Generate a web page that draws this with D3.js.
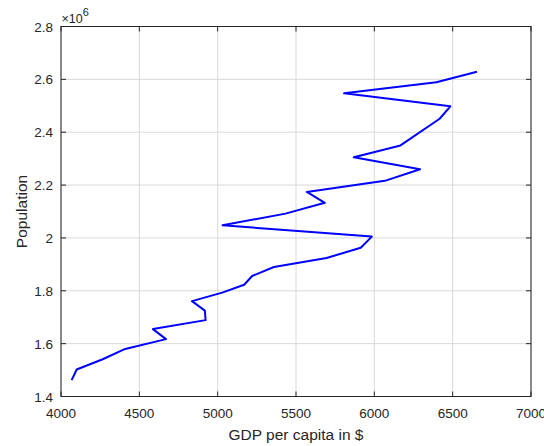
<!DOCTYPE html>
<html>
<head>
<meta charset="utf-8">
<script src="https://cdn.jsdelivr.net/npm/d3@7"></script>
<style>
    body { margin: 0; background: #fff; }
    text { font-family: "Liberation Sans", Arial, sans-serif; fill: #262626; }
</style>
</head>
<body>
<div id="chartdiv"></div>
<script>
//GDP per capita against population, plotted in time order
var gdp = [4068, 4100, 4266, 4410, 4670, 4587, 4923, 4918, 4836, 5029,
           5169, 5220, 5359, 5695, 5913, 5984, 5031, 5433, 5684, 5569,
           6067, 6292, 5869, 6167, 6417, 6485, 5807, 6396, 6655],
    pop = [1.462, 1.502, 1.541, 1.580, 1.617, 1.655, 1.689, 1.725, 1.761, 1.793,
           1.823, 1.856, 1.890, 1.924, 1.963, 2.005, 2.048, 2.092, 2.133, 2.174,
           2.216, 2.260, 2.305, 2.350, 2.451, 2.498, 2.547, 2.589, 2.629],
    xticks = [4000, 4500, 5000, 5500, 6000, 6500, 7000],
    yticks = [1.4, 1.6, 1.8, 2, 2.2, 2.4, 2.6, 2.8];

(function () {
    "use strict";
    var W = 544, H = 446,
        m = {left: 61, right: 13, top: 26.5, bottom: 49.5},
        iw = W - m.left - m.right, ih = H - m.top - m.bottom,
        svg, g, x, y, tl = 5, pts;

    svg = d3.select("#chartdiv").append("svg")
        .attr("width", W).attr("height", H);
    g = svg.append("g")
        .attr("transform", "translate(" + m.left + "," + m.top + ")");

    x = d3.scaleLinear().domain([4000, 7000]).range([0, iw]);
    y = d3.scaleLinear().domain([1.4, 2.8]).range([ih, 0]);

    //grid lines
    g.selectAll(".vg").data(xticks).enter().append("line")
        .attr("x1", function (d) { return x(d); })
        .attr("x2", function (d) { return x(d); })
        .attr("y1", 0).attr("y2", ih)
        .attr("stroke", "#d9d9d9").attr("stroke-width", 1);
    g.selectAll(".hg").data(yticks).enter().append("line")
        .attr("y1", function (d) { return y(d); })
        .attr("y2", function (d) { return y(d); })
        .attr("x1", 0).attr("x2", iw)
        .attr("stroke", "#d9d9d9").attr("stroke-width", 1);

    //data line
    pts = gdp.map(function (v, i) { return [v, pop[i]]; });
    g.append("path").datum(pts)
        .attr("fill", "none")
        .attr("stroke", "#0000ff")
        .attr("stroke-width", 2)
        .attr("stroke-linejoin", "round")
        .attr("d", d3.line()
            .x(function (d) { return x(d[0]); })
            .y(function (d) { return y(d[1]); }));

    //box and inward ticks on all four sides
    g.append("rect")
        .attr("width", iw).attr("height", ih)
        .attr("fill", "none").attr("stroke", "#262626").attr("stroke-width", 1);
    g.selectAll(".xtb").data(xticks).enter().append("path")
        .attr("stroke", "#262626")
        .attr("d", function (d) {
            return "M" + x(d) + "," + ih + "v" + (-tl) +
                "M" + x(d) + ",0v" + tl; });
    g.selectAll(".ytb").data(yticks).enter().append("path")
        .attr("stroke", "#262626")
        .attr("d", function (d) {
            return "M0," + y(d) + "h" + tl +
                "M" + iw + "," + y(d) + "h" + (-tl); });

    //tick labels
    g.selectAll(".xtl").data(xticks).enter().append("text")
        .attr("x", function (d) { return x(d); })
        .attr("y", ih + 21)
        .attr("text-anchor", "middle")
        .attr("font-size", 13.5)
        .text(function (d) { return d; });
    g.selectAll(".ytl").data(yticks).enter().append("text")
        .attr("x", -8)
        .attr("y", function (d) { return y(d) + 5; })
        .attr("text-anchor", "end")
        .attr("font-size", 13.5)
        .text(function (d) { return d3.format("~g")(d); });

    //exponent marker
    g.append("text")
        .attr("x", 0.5).attr("y", -4)
        .attr("font-size", 12.5)
        .text("\u00d710")
        .append("tspan")
        .attr("dy", -6.5)
        .attr("font-size", 11)
        .text("6");

    //axis labels
    g.append("text")
        .attr("x", iw / 2).attr("y", ih + 43)
        .attr("text-anchor", "middle")
        .attr("font-size", 15.5)
        .text("GDP per capita in $");
    g.append("text")
        .attr("transform", "translate(" + (-34.5) + "," + (ih / 2) + ") rotate(-90)")
        .attr("text-anchor", "middle")
        .attr("font-size", 15.5)
        .text("Population");
}());
</script>
</body>
</html>
